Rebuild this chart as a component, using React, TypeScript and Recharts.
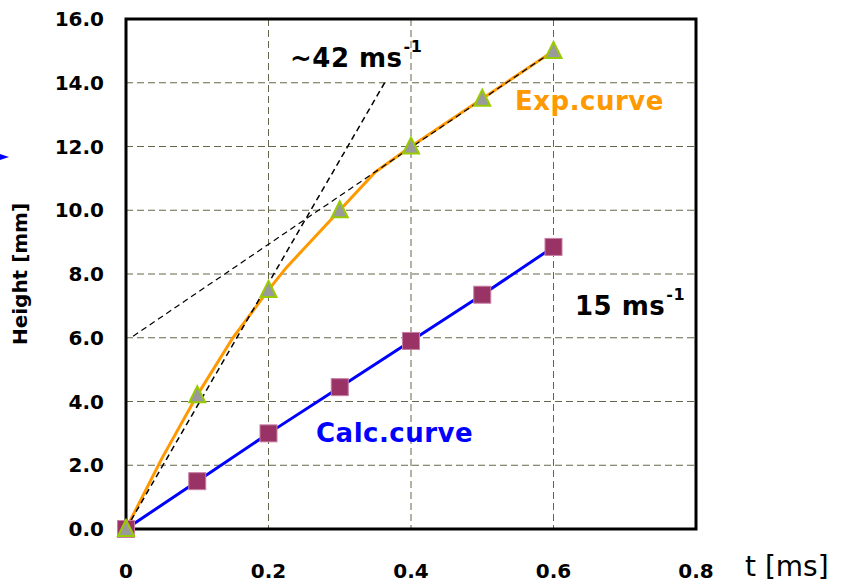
import React from 'react';
import { ComposedChart, Line, XAxis, YAxis, CartesianGrid, ReferenceArea } from 'recharts';

// measured points (t in ms, height in mm)
const pointT = [0, 0.1, 0.2, 0.3, 0.4, 0.5, 0.6];
const expHeights = [0, 4.2, 7.5, 10.0, 12.0, 13.5, 15.0];
const calcHeights = [0, 1.5, 3.0, 4.45, 5.9, 7.35, 8.85];

// the orange fitted curve
const expCurveT = [0, 0.05, 0.1, 0.15, 0.2, 0.225, 0.3, 0.35, 0.4, 0.5, 0.6];
const expCurveH = [0, 2.2, 4.2, 6.0, 7.5, 8.2, 10.0, 11.2, 12.0, 13.5, 15.0];

// tangents drawn by hand
const fastTangentT = [0, 0.363];
const fastTangentH = [0, 14.0];
const slowTangentT = [0.01, 0.6];
const slowTangentH = [6.05, 15.0];

const xTicks = [0, 0.2, 0.4, 0.6, 0.8];
const yTicks = [0, 2, 4, 6, 8, 10, 12, 14, 16];

const zip = (ts: number[], hs: number[]) => ts.map((t, i) => ({ t, h: hs[i] }));

const expPoints = zip(pointT, expHeights);
const calcPoints = zip(pointT, calcHeights);
const expCurve = zip(expCurveT, expCurveH);
const fastTangent = zip(fastTangentT, fastTangentH);
const slowTangent = zip(slowTangentT, slowTangentH);

const tickStyle = { fill: '#000', fontSize: 20, fontWeight: 700, fontFamily: 'DejaVu Sans' };

const Square = (props: any) => {
  const { cx, cy, index } = props;
  if (cx == null || cy == null) return <g key={`sq-${index}`} />;
  return (
    <rect key={`sq-${index}`} x={cx - 8.5} y={cy - 8.5} width={17} height={17}
      fill="#993366" stroke="#c77fa3" strokeWidth={1} />
  );
};

const Triangle = (props: any) => {
  const { cx, cy, index } = props;
  if (cx == null || cy == null) return <g key={`tr-${index}`} />;
  return (
    <path key={`tr-${index}`}
      d={`M${cx},${cy - 9} L${cx + 8},${cy + 7} L${cx - 8},${cy + 7} Z`}
      fill="#9a9a9a" stroke="#99cc00" strokeWidth={2} strokeLinejoin="miter" />
  );
};

const note: React.CSSProperties = {
  position: 'absolute',
  fontFamily: 'DejaVu Sans',
  fontWeight: 700,
  fontSize: 26,
  lineHeight: 1,
  whiteSpace: 'nowrap',
};

const sup: React.CSSProperties = { fontSize: 16, verticalAlign: 'top', position: 'relative', top: -6, marginLeft: 1 };

export default function App() {
  return (
    <div style={{ position: 'absolute', left: 0, top: 0, width: 846, height: 584, background: '#fff' }}>
      <ComposedChart width={846} height={584} margin={{ top: 19, right: 150, bottom: 0, left: 0 }}>
        <CartesianGrid stroke="#66664a" strokeDasharray="7 4" strokeWidth={1} />
        <XAxis dataKey="t" type="number" domain={[0, 0.8]} ticks={xTicks} height={55}
          axisLine={false} tickLine={false} tickSize={0} tickMargin={35}
          tickFormatter={(v: number) => (v === 0 ? '0' : v.toFixed(1))} tick={tickStyle} />
        <YAxis dataKey="h" type="number" domain={[0, 16]} ticks={yTicks} width={126}
          axisLine={false} tickLine={false} tickSize={0} tickMargin={22}
          tickFormatter={(v: number) => v.toFixed(1)} tick={tickStyle}
          label={{ value: 'Height [mm]', angle: -90, position: 'insideLeft', offset: 20,
            style: { textAnchor: 'middle', fontSize: 20, fontWeight: 700, fontFamily: 'DejaVu Sans', fill: '#000' } }} />
        <ReferenceArea x1={0} x2={0.8} y1={0} y2={16} fill="none" fillOpacity={0}
          stroke="#000" strokeWidth={3} ifOverflow="visible" />
        <Line data={calcPoints} dataKey="h" stroke="#0000ff" strokeWidth={3}
          dot={Square} activeDot={false} isAnimationActive={false} />
        <Line data={expCurve} dataKey="h" stroke="#ff9900" strokeWidth={3}
          dot={false} activeDot={false} isAnimationActive={false} />
        <Line data={expPoints} dataKey="h" stroke="none" strokeWidth={0}
          dot={Triangle} activeDot={false} isAnimationActive={false} />
        <Line data={fastTangent} dataKey="h" stroke="#000" strokeWidth={1.5} strokeDasharray="6 4"
          dot={false} activeDot={false} isAnimationActive={false} />
        <Line data={slowTangent} dataKey="h" stroke="#000" strokeWidth={1.2} strokeDasharray="6 4"
          dot={false} activeDot={false} isAnimationActive={false} />
      </ComposedChart>

      <div style={{ ...note, left: 290, top: 45, color: '#000', letterSpacing: 0.5 }}>
        ~42 ms<span style={sup}>-1</span>
      </div>
      <div style={{ ...note, left: 515, top: 88, color: '#ff9900', letterSpacing: 0.5 }}>Exp.curve</div>
      <div style={{ ...note, left: 575, top: 293, color: '#000', letterSpacing: 0.5 }}>
        15 ms<span style={sup}>-1</span>
      </div>
      <div style={{ ...note, left: 316, top: 420, color: '#0000ff', letterSpacing: 0.5 }}>Calc.curve</div>
      <div style={{ ...note, left: 745, top: 553, fontSize: 28, fontWeight: 400, color: '#000' }}>t [ms]</div>
      <svg style={{ position: 'absolute', left: 0, top: 152 }} width={10} height={10}>
        <path d="M0,2 L9,5 L0,8 Z" fill="#0000ff" />
      </svg>
    </div>
  );
}
